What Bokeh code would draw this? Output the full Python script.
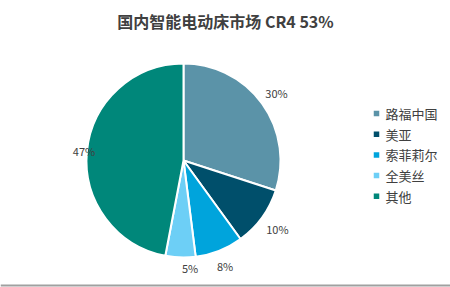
import math
from bokeh.plotting import figure
from bokeh.models import Range1d, ColumnDataSource, Span
from bokeh.core.properties import value
from bokeh.embed import file_html
from bokeh.resources import INLINE

title = "国内智能电动床市场 CR4 53%"
categories = ["路福中国", "美亚", "索菲莉尔", "全美丝", "其他"]
shares = [30, 10, 8, 5, 47]
labels = ["30%", "10%", "8%", "5%", "47%"]
colors = ["#5B93A8", "#004F6B", "#00A4DC", "#6DCFF6", "#00877A"]

# label placement (layout only): distance from centre and small horizontal nudge
label_dist = [115, 116, 113, 108, 100]
label_nudge = [0, 0, 0, 10, 0]

W, H = 450, 287
CX, CY, R = 183, 287 - 160, 97
FONT = "Noto Sans CJK SC"

p = figure(width=W, height=H, output_backend="svg", toolbar_location=None,
           x_range=Range1d(0, W), y_range=Range1d(0, H), min_border=0)
p.axis.visible = False
p.grid.visible = False
p.outline_line_color = None
p.background_fill_color = "white"
p.border_fill_color = "white"

total = sum(shares)
starts, ends, lx, ly = [], [], [], []
cum = 0.0
for s, d, n in zip(shares, label_dist, label_nudge):
    a0 = cum / total
    cum += s
    a1 = cum / total
    starts.append(math.pi / 2 - a0 * 2 * math.pi)
    ends.append(math.pi / 2 - a1 * 2 * math.pi)
    mid = (a0 + a1) / 2 * 2 * math.pi
    lx.append(CX + d * math.sin(mid) + n)
    ly.append(CY + d * math.cos(mid))

src = ColumnDataSource(dict(start=starts, end=ends, color=colors, cat=categories,
                            lx=lx, ly=ly, lab=labels))
p.wedge(x=CX, y=CY, radius=R, start_angle="start", end_angle="end",
        direction="clock", fill_color="color", line_color="white", line_width=2,
        source=src)
p.text(x="lx", y="ly", text="lab", source=src, text_align="center",
       text_baseline="middle", text_font_size="11px", text_color="#404040",
       text_font=value(FONT))

# title
p.text(x=[W / 2], y=[H - 20], text=[title], text_align="center", text_baseline="middle",
       text_font_size="16px", text_font_style="bold", text_color="#404040",
       text_font=value(FONT))

# legend
leg_y = [H - 113 - i * 20.7 for i in range(len(categories))]
leg_x = [376] * len(categories)
txt_x = [385] * len(categories)
lsrc = ColumnDataSource(dict(x=leg_x, tx=txt_x, y=leg_y, color=colors, cat=categories))
p.rect(x="x", y="y", width=5.5, height=5.5, fill_color="color", line_color=None, source=lsrc)
p.text(x="tx", y="y", text="cat", source=lsrc, text_baseline="middle",
       text_font_size="13px", text_color="#404040", text_font=value(FONT))

p.add_layout(Span(location=2, dimension="width", line_color="#A0A0A0", line_width=2))

open("out.html", "w").write(file_html(p, INLINE))
